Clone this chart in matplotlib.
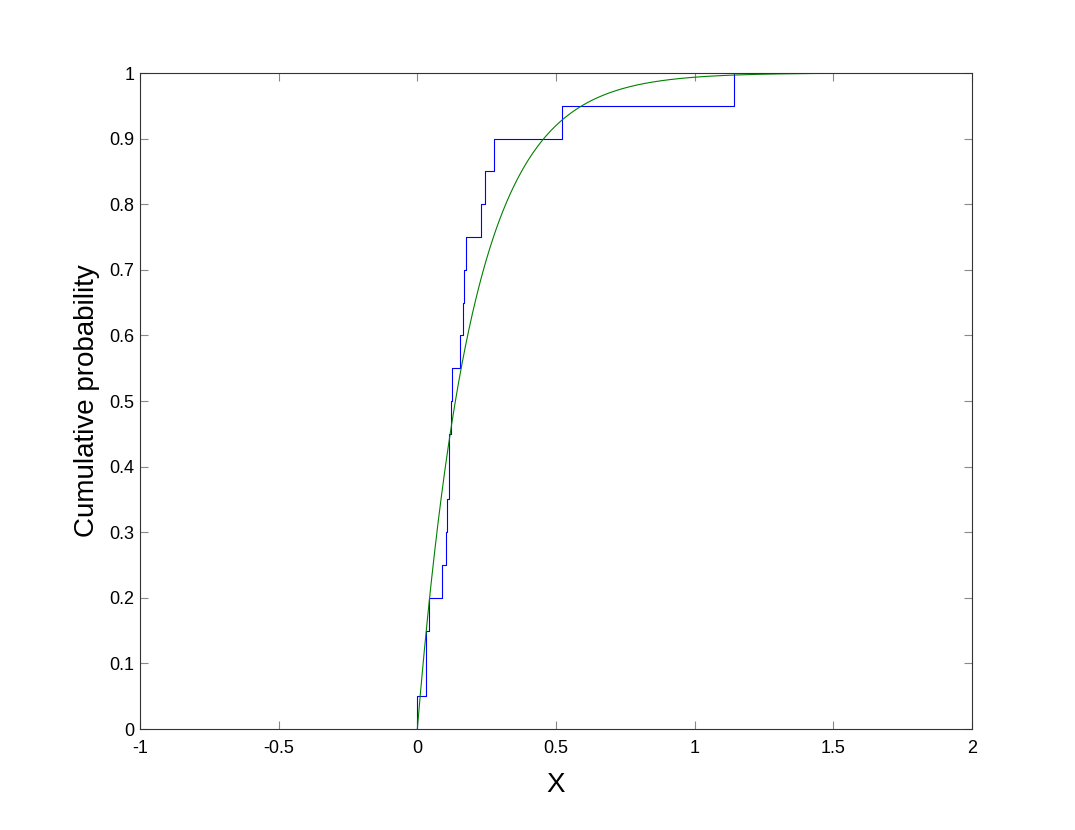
import numpy as np
import matplotlib
matplotlib.use("Agg")
import matplotlib.pyplot as plt

plt.rcParams['font.family'] = ['Liberation Sans', 'DejaVu Sans']

# Sample values (read from the empirical CDF steps)
samples = [0.000, 0.031, 0.031, 0.043, 0.089, 0.102, 0.106, 0.113, 0.115, 0.1215,
           0.126, 0.155, 0.166, 0.169, 0.174, 0.231, 0.243, 0.275, 0.522, 1.142]
# Fitted exponential mean (sample mean)
fit_mu = 0.198
fit_xmax = 1.65

x_ticks = [-1, -0.5, 0, 0.5, 1, 1.5, 2]
x_tick_labels = ['-1', '-0.5', '0', '0.5', '1', '1.5', '2']
y_ticks = [0, 0.1, 0.2, 0.3, 0.4, 0.5, 0.6, 0.7, 0.8, 0.9, 1]
y_tick_labels = ['0', '0.1', '0.2', '0.3', '0.4', '0.5', '0.6', '0.7', '0.8', '0.9', '1']

fig = plt.figure(figsize=(10.75, 8.3), dpi=100)
ax = fig.add_axes([140/1075, 1-729/830, (972-140)/1075, (729-73)/830])

s = np.sort(np.array(samples))
u, counts = np.unique(s, return_counts=True)
F = np.cumsum(counts) / len(s)
ax.step(np.r_[u[0], u], np.r_[0, F], where='post', color=(0, 0, 1), lw=0.8)

xf = np.linspace(0, fit_xmax, 400)
ax.plot(xf, 1 - np.exp(-xf / fit_mu), color=(0, 0.5, 0), lw=0.8)

ax.set_xlim(-1, 2)
ax.set_ylim(0, 1)
ax.set_xticks(x_ticks)
ax.set_xticklabels(x_tick_labels)
ax.set_yticks(y_ticks)
ax.set_yticklabels(y_tick_labels)
ax.tick_params(direction='in', length=6, width=0.8, color='#888888',
               labelsize=13, top=True, right=True, labelcolor='black')
ax.tick_params(axis='x', pad=8)
ax.tick_params(axis='y', pad=4)
for sp in ax.spines.values():
    sp.set_color('#333333')
    sp.set_linewidth(0.8)

ax.set_xlabel('X', fontsize=20, labelpad=11)
ax.set_ylabel('Cumulative probability', fontsize=20, labelpad=7)

fig.savefig('out.png', dpi=100)
